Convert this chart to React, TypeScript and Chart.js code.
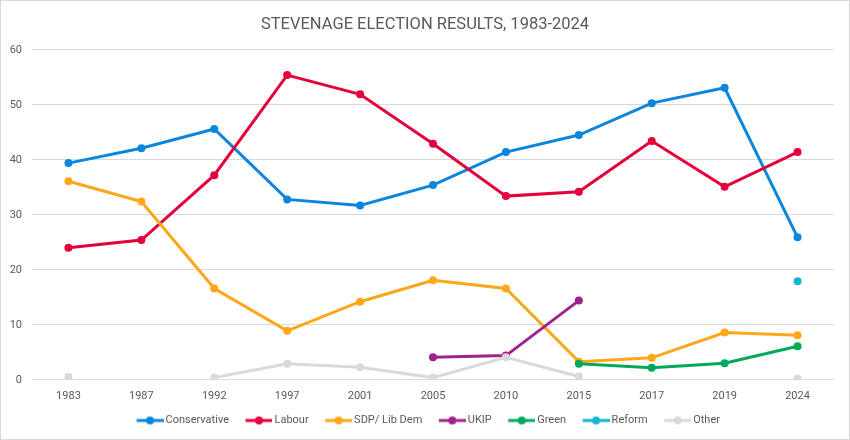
import React, { useEffect, useRef } from 'react';
import { Chart, registerables } from 'chart.js';

Chart.register(...registerables);

// Stevenage constituency vote share (%) by general election
const years = ['1983', '1987', '1992', '1997', '2001', '2005', '2010', '2015', '2017', '2019', '2024'];
const conservative = [39.4, 42.1, 45.6, 32.8, 31.7, 35.4, 41.4, 44.5, 50.3, 53.1, 25.9];
const labour = [24.0, 25.4, 37.2, 55.4, 51.9, 42.9, 33.4, 34.2, 43.4, 35.1, 41.4];
const libDem = [36.1, 32.4, 16.6, 8.9, 14.2, 18.1, 16.6, 3.3, 4.0, 8.6, 8.1];
const ukip = [null, null, null, null, null, 4.1, 4.4, 14.4, null, null, null];
const green = [null, null, null, null, null, null, null, 2.9, 2.2, 3.0, 6.1];
const reform = [null, null, null, null, null, null, null, null, null, null, 17.9];
const other = [0.5, null, 0.4, 2.9, 2.3, 0.4, 4.1, 0.6, null, null, 0.2];

const parties = ['Conservative', 'Labour', 'SDP/ Lib Dem', 'UKIP', 'Green', 'Reform', 'Other'];
const partyColors = ['#0A87DC', '#E4003B', '#FFA619', '#A0228E', '#02A95B', '#14B6CF', '#D9D9D9'];
const yTicks = [0, 10, 20, 30, 40, 50, 60];

const FONT = 'Roboto, "Noto Sans", sans-serif';
const TEXT = '#595959';

// Excel-style legend swatch: a short line with a dot in the middle.
// The swatch sits at the right end of a wider image so there is room before it.
const SWATCH_BOX = 30;
function legendSwatch(color: string) {
  const c = document.createElement('canvas');
  c.width = SWATCH_BOX + 7;
  c.height = 10;
  const g = c.getContext('2d')!;
  const x0 = c.width - 27;
  g.strokeStyle = color;
  g.lineWidth = 3;
  g.beginPath();
  g.moveTo(x0, 5);
  g.lineTo(c.width, 5);
  g.stroke();
  g.fillStyle = color;
  g.beginPath();
  g.arc(x0 + 13.5, 5, 4, 0, Math.PI * 2);
  g.fill();
  return c;
}

export default function App() {
  const canvasRef = useRef<HTMLCanvasElement | null>(null);
  const chartRef = useRef<Chart | null>(null);

  useEffect(() => {
    if (!canvasRef.current) return;
    const series = [conservative, labour, libDem, ukip, green, reform, other];

    chartRef.current = new Chart(canvasRef.current, {
      type: 'line',
      data: {
        labels: years,
        datasets: series.map((data, i) => ({
          label: parties[i],
          data,
          borderColor: partyColors[i],
          backgroundColor: partyColors[i],
          borderWidth: 3,
          pointRadius: 4,
          pointHoverRadius: 4,
          pointBorderWidth: 0,
          tension: 0,
          spanGaps: false,
          order: 10 - i,
        })),
      },
      options: {
        animation: false,
        responsive: true,
        maintainAspectRatio: false,
        layout: { padding: { left: 0, right: 0, top: 6, bottom: 3 } },
        scales: {
          x: {
            offset: true,
            grid: { display: false },
            border: { display: false },
            ticks: { color: TEXT, font: { family: FONT, size: 11 }, padding: 2 },
          },
          y: {
            min: 0,
            max: 60,
            afterBuildTicks: (axis) => {
              axis.ticks = yTicks.map((v) => ({ value: v }));
            },
            afterFit: (axis) => {
              axis.width = 31;
            },
            grid: { color: '#D9D9D9', lineWidth: 1, drawTicks: false },
            border: { display: false },
            ticks: { color: TEXT, font: { family: FONT, size: 11 }, padding: 10 },
          },
          // empty right-hand gutter, keeps title and legend centred on the whole canvas
          gutter: {
            type: 'linear',
            position: 'right',
            display: true,
            grid: { display: false },
            border: { display: false },
            ticks: { display: false },
            afterFit: (axis) => {
              axis.width = 15;
            },
          },
        },
        plugins: {
          title: {
            display: true,
            text: 'STEVENAGE ELECTION RESULTS, 1983-2024',
            color: TEXT,
            font: { family: FONT, size: 16.5, weight: 'normal' },
            padding: { top: 8, bottom: 15 },
          },
          legend: {
            position: 'bottom',
            labels: {
              usePointStyle: true,
              pointStyleWidth: SWATCH_BOX,
              color: TEXT,
              font: { family: FONT, size: 11 },
              padding: 10,
              generateLabels: (chart) =>
                chart.data.datasets.map((ds, i) => ({
                  text: ds.label as string,
                  fillStyle: partyColors[i],
                  strokeStyle: partyColors[i],
                  fontColor: TEXT,
                  lineWidth: 0,
                  pointStyle: legendSwatch(partyColors[i]),
                  hidden: false,
                  datasetIndex: i,
                })),
            },
          },
          tooltip: { enabled: false },
        },
      },
    });

    return () => {
      chartRef.current?.destroy();
      chartRef.current = null;
    };
  }, []);

  return (
    <div
      style={{
        position: 'fixed',
        left: 0,
        top: 0,
        width: 850,
        height: 440,
        boxSizing: 'border-box',
        border: '1px solid #D9D9D9',
        background: '#fff',
      }}
    >
      <canvas ref={canvasRef} />
    </div>
  );
}
